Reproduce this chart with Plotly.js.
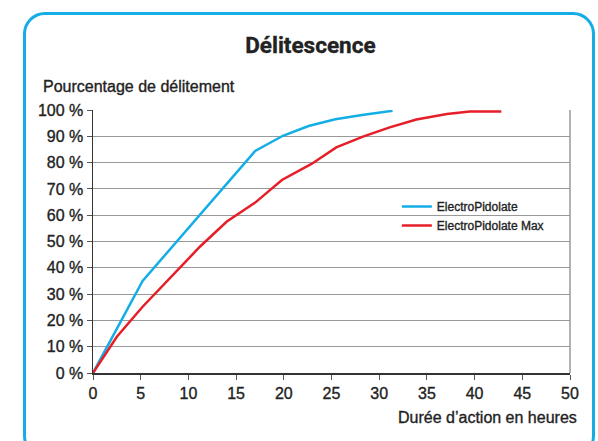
<!DOCTYPE html>
<html>
<head>
<meta charset="utf-8">
<script src="https://cdn.plot.ly/plotly-3.0.1.min.js"></script>
<style>
html,body{margin:0;padding:0;background:#fff;overflow:hidden;}
#frame{position:absolute;left:23px;top:12px;width:572px;height:446px;border:3px solid #16ade6;border-radius:22px;box-sizing:border-box;}
#chart{position:absolute;left:0;top:0;width:598px;height:441px;}
#chart text{stroke:#222;stroke-width:0.35px;paint-order:stroke;}
</style>
</head>
<body>
<div id="frame"></div>
<div id="chart"></div>
<script>
const seriesNames = ["ElectroPidolate", "ElectroPidolate Max"];
const blueHours = [0, 5.2, 17.0, 19.9, 22.6, 25.4, 28.2, 31.4];
const bluePct   = [0, 35, 84.4, 90.2, 93.9, 96.5, 98.1, 99.7];
const redHours  = [0, 2.5, 5.2, 8.6, 11.2, 14.0, 17.0, 19.8, 22.9, 25.5, 28.3, 31.1, 33.9, 37.1, 39.5, 42.8];
const redPct    = [0, 13.8, 25.2, 38.1, 48, 57.5, 64.8, 73.4, 79.5, 85.8, 89.9, 93.4, 96.4, 98.5, 99.4, 99.4];
const xTicks = [0,5,10,15,20,25,30,35,40,45,50];
const yTicks = [0,10,20,30,40,50,60,70,80,90,100];

const FONT = "'Liberation Sans', Arial, Helvetica, sans-serif";
const TITLE_FONT = "Roboto, 'Liberation Sans', sans-serif";
const traces = [
  {x: blueHours, y: bluePct, name: seriesNames[0], type: "scatter", mode: "lines",
   line: {color: "#14aee6", width: 2.5}},
  {x: redHours, y: redPct, name: seriesNames[1], type: "scatter", mode: "lines",
   line: {color: "#e61e28", width: 2.5}}
];
const layout = {
  width: 598, height: 441,
  paper_bgcolor: "rgba(0,0,0,0)", plot_bgcolor: "rgba(0,0,0,0)",
  margin: {l: 93, r: 28, t: 110, b: 68},
  font: {family: FONT, color: "#222", size: 16},
  title: {text: "<b>Délitescence</b>", x: 0.519, xanchor: "center", y: 0.898, yanchor: "middle",
          font: {family: TITLE_FONT, size: 22.5, color: "#222"}},
  showlegend: true,
  legend: {x: 0.637, y: 0.688, xanchor: "left", yanchor: "top", bgcolor: "rgba(0,0,0,0)",
           font: {family: FONT, size: 12, color: "#222"}, tracegroupgap: 0},
  xaxis: {range: [0, 50], tickvals: xTicks, ticktext: xTicks.map(String),
          showgrid: false, zeroline: false, showline: true, linecolor: "#333", linewidth: 1.5,
          ticks: "outside", ticklen: 5, tickcolor: "#555", tickfont: {size: 16, family: FONT, color: "#222"}},
  yaxis: {range: [0, 100], tickvals: yTicks, ticktext: yTicks.map(v => v + " %"),
          showgrid: true, gridcolor: "#999", gridwidth: 1, zeroline: false,
          showline: true, linecolor: "#333", linewidth: 1.5,
          ticks: "outside", ticklen: 5, tickcolor: "#555", tickfont: {size: 16, family: FONT, color: "#222"}},
  shapes: [
    {type: "line", xref: "paper", yref: "paper", x0: 1, x1: 1, y0: 0, y1: 1, line: {color: "#999", width: 1.5}}
  ],
  annotations: [
    {text: "Pourcentage de délitement", xref: "paper", yref: "paper", x: -0.108, y: 1.09,
     xanchor: "left", yanchor: "middle", showarrow: false, font: {family: FONT, size: 16, color: "#222"}},
    {text: "Durée d’action en heures", xref: "paper", yref: "paper", x: 1.019, y: -0.171,
     xanchor: "right", yanchor: "middle", showarrow: false, font: {family: FONT, size: 16, color: "#222"}}
  ]
};
Plotly.newPlot("chart", traces, layout, {displayModeBar: false, staticPlot: true});
</script>
</body>
</html>
